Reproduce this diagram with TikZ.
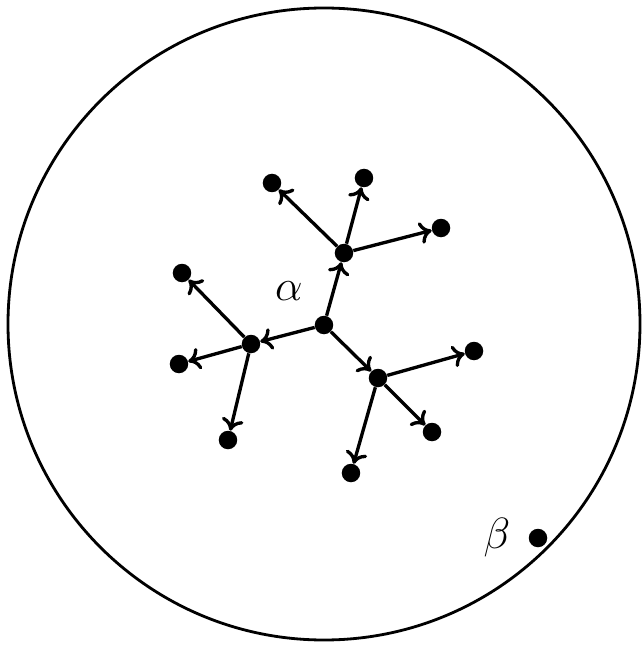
\documentclass[tikz,border=0pt]{standalone}
\usepackage{tikz}
\usetikzlibrary{
  arrows.meta,
  calc
}
\tikzset{
  dot/.style={
    circle, fill=black, draw=none, inner sep=0pt, minimum size=3.7mm
  },
  branch/.style={
    draw, -{To[length=2.4mm,width=4.4mm]}, line width=1.9pt, color=black
  },
  boundary/.style={
    draw, line width=1.6pt
  },
  greek/.style={
    font=\Huge
  }
}
\begin{document}
\begin{tikzpicture}

\useasboundingbox (-6.48,-6.42) rectangle (6.4,6.48);

% ── Outer region ───────────────────────────────────────────────────
\draw[boundary] (0,0) circle (6.32);

% ── Root and first generation ──────────────────────────────────────
\node[dot] (R) at (0,-0.02) {};
\node[dot] (A) at (0.4,1.42) {};
\node[dot] (B) at (-1.46,-0.4) {};
\node[dot] (C) at (1.08,-1.08) {};

% ── Second generation ──────────────────────────────────────────────
\node[dot] (A1) at (-1.04,2.82) {};
\node[dot] (A2) at (0.8,2.92) {};
\node[dot] (A3) at (2.34,1.92) {};
\node[dot] (B1) at (-2.84,1.02) {};
\node[dot] (B2) at (-2.9,-0.8) {};
\node[dot] (B3) at (-1.92,-2.32) {};
\node[dot] (C1) at (3.0,-0.54) {};
\node[dot] (C2) at (2.16,-2.16) {};
\node[dot] (C3) at (0.54,-2.98) {};

% ── Lone point ─────────────────────────────────────────────────────
\node[dot] (P) at (4.28,-4.28) {};

% ── Labels ─────────────────────────────────────────────────────────
\node[greek] (alpha) at (-0.7,0.66) {$\alpha$};
\node[greek] (beta) at (3.46,-4.28) {$\beta$};

% ── EDGES ───────────────────────────────────────────────────────────
\foreach \p/\c in {R/A, R/B, R/C,
                   A/A1, A/A2, A/A3,
                   B/B1, B/B2, B/B3,
                   C/C1, C/C2, C/C3}
  \draw[branch] (\p) -- (\c);

\end{tikzpicture}
\end{document}
